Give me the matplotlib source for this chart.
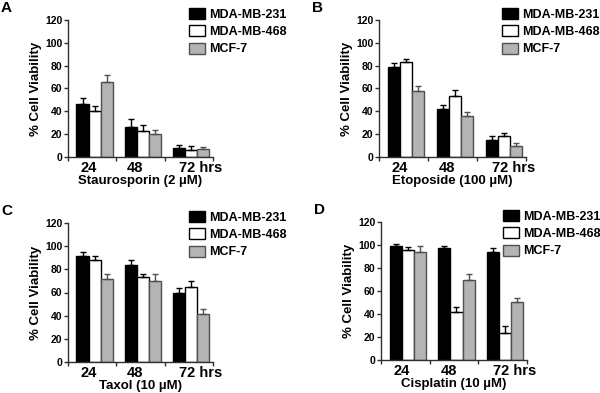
import matplotlib
matplotlib.use('Agg')
import matplotlib.pyplot as plt
from matplotlib.patches import Patch

plt.rcParams['font.family'] = ['Liberation Sans', 'DejaVu Sans']
plt.rcParams['font.weight'] = 'bold'
plt.rcParams['axes.labelweight'] = 'bold'

lines = ['MDA-MB-231', 'MDA-MB-468', 'MCF-7']
times = ['24', '48', '72 hrs']

# % cell viability (mean) and upper error, order: 231, 468, MCF-7
stau_mean = [[46, 26, 8], [40, 23, 6.4], [66, 20.5, 6.7]]
stau_err = [[6, 7, 2.6], [4.5, 4.7, 3.3], [6, 3, 2]]
etop_mean = [[79, 42, 15], [83, 53.6, 18], [58, 35.7, 9.7]]
etop_err = [[3.5, 3.2, 3.5], [2.7, 5, 3], [4, 4, 2.6]]
taxol_mean = [[91.6, 84, 60], [87.8, 73.2, 65], [71.7, 70.2, 41.6]]
taxol_err = [[3, 3.8, 3.5], [3.5, 3, 4.7], [4.4, 5.8, 3.8]]
cis_mean = [[98.7, 97, 94.3], [95.8, 41.5, 23.4], [94.3, 70, 50.5]]
cis_err = [[2, 2.3, 3], [2.3, 5, 5.8], [4.4, 4.7, 3]]

panels = [
    ('A', 'Staurosporin (2 µM)', stau_mean, stau_err, [68, 20, 213, 157]),
    ('B', 'Etoposide (100 µM)', etop_mean, etop_err, [379, 20, 526, 157]),
    ('C', 'Taxol (10 µM)', taxol_mean, taxol_err, [68, 223, 213, 362]),
    ('D', 'Cisplatin (10 µM)', cis_mean, cis_err, [381, 222, 527, 360]),
]

fills = ['black', 'white', '#b4b4b4']
edges = ['black', 'black', '#505050']
W, H = 600, 393
fig = plt.figure(figsize=(6, 3.93), dpi=100)

for letter, xlabel, means, errs, (x0, y0, x1, y1) in panels:
    ax = fig.add_axes([x0 / W, 1 - y1 / H, (x1 - x0) / W, (y1 - y0) / H])
    bw = 0.25
    for k in range(3):
        xs = [i + 0.55 + (k - 1) * bw for i in range(3)]
        ax.bar(xs, means[k], width=bw, color=fills[k], edgecolor=edges[k], linewidth=1.0)
        ax.errorbar(xs, means[k], yerr=[[0] * 3, errs[k]], fmt='none',
                    ecolor=edges[k], elinewidth=1.0, capsize=2.5, capthick=1.0)
    ax.set_xlim(0, 3)
    ax.set_ylim(0, 120)
    ax.set_yticks(range(0, 121, 20))
    ax.set_xticks([0, 1, 2, 3])
    ax.set_xticklabels([])
    ax.set_xticks([0.42, 1.39, 2.74], minor=True)
    ax.set_xticklabels(times, minor=True, fontsize=10.5)
    ax.tick_params(axis='x', which='minor', length=0, pad=3)
    ax.tick_params(axis='x', which='major', length=3, width=1, color='#303030')
    ax.tick_params(axis='y', length=3, width=1, labelsize=7.5, pad=1, color='#303030')
    for s in ['top', 'right']:
        ax.spines[s].set_visible(False)
    for s in ['left', 'bottom']:
        ax.spines[s].set_color('#303030')
        ax.spines[s].set_linewidth(1.0)
    ax.set_ylabel('% Cell Viability', fontsize=9.5, labelpad=2)
    ax.set_xlabel(xlabel, fontsize=9.5, labelpad=0)
    fig.text((x0 - 67) / W, 1 - (y0 - 12) / H, letter, fontsize=11, ha='left', va='center')
    handles = [Patch(facecolor=fills[k], edgecolor=edges[k], linewidth=1.0) for k in range(3)]
    ax.legend(handles, lines, loc='upper left', frameon=False,
              bbox_to_anchor=((x1 - 24) / W, 1 - (y0 - 12) / H), bbox_transform=fig.transFigure,
              fontsize=9, handlelength=1.3, handleheight=1.0, labelspacing=0.35,
              handletextpad=0.3, borderaxespad=0, borderpad=0)

fig.savefig('out.png', dpi=100)
